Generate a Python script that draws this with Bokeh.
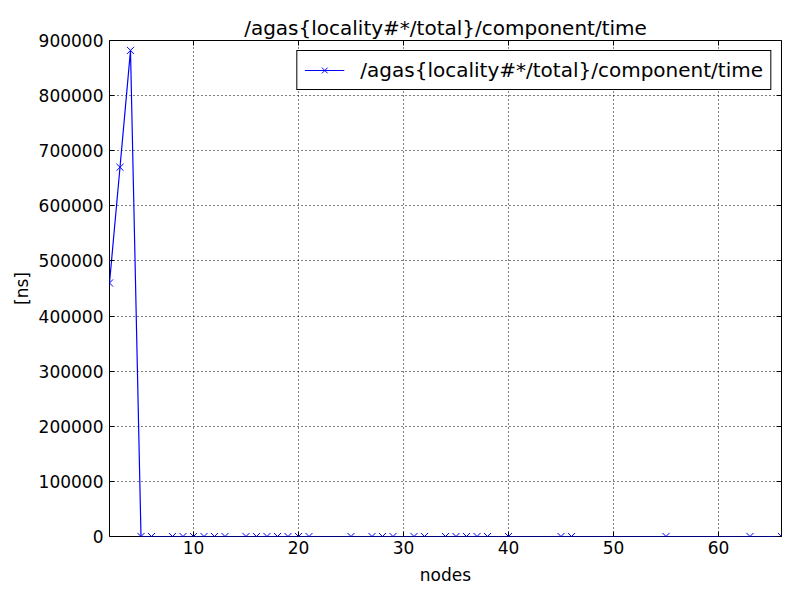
from bokeh.plotting import figure
from bokeh.models import ColumnDataSource, Range1d, FixedTicker, BasicTickFormatter, LinearAxis, Legend, LegendItem
from bokeh.embed import file_html
from bokeh.resources import INLINE

nodes = [2, 3, 4, 5, 6, 8, 9, 10, 11, 12, 13, 15, 16, 17, 18, 19, 20, 21, 25,
         27, 28, 29, 31, 32, 34, 35, 36, 37, 38, 40, 45, 46, 55, 63, 66]
times = [460000, 670000, 882000] + [0] * (len(nodes) - 3)
x_ticks = [10, 20, 30, 40, 50, 60]
y_ticks = [0, 100000, 200000, 300000, 400000, 500000, 600000, 700000, 800000, 900000]
series_name = "/agas{locality#*/total}/component/time"

FONT = "DejaVu Sans"

source = ColumnDataSource(data=dict(x=nodes, y=times))

p = figure(width=792, height=592, output_backend="svg", toolbar_location=None,
           x_range=Range1d(2, 66), y_range=Range1d(0, 900000),
           min_border_left=109, min_border_right=11, min_border_top=40, min_border_bottom=56)

p.title.text = series_name
p.title.align = "center"
p.title.text_font = FONT
p.title.text_font_size = "20px"
p.title.text_font_style = "normal"
p.title.text_color = "black"
p.title.standoff = 2

p.outline_line_color = "black"
p.outline_line_width = 1
p.outline_line_alpha = 1

r_line = p.line('x', 'y', source=source, line_color="#0000ff", line_width=1.2)
r_mark = p.scatter('x', 'y', source=source, marker="x", size=10, line_color="#0000ff", line_width=1)

for ax in (p.xaxis[0], p.yaxis[0]):
    ax.axis_line_color = None
    ax.major_tick_in = 5
    ax.major_tick_out = 0
    ax.major_tick_line_color = "black"
    ax.minor_tick_line_color = None
    ax.major_label_text_font = FONT
    ax.major_label_text_font_size = "17px"
    ax.major_label_text_color = "black"
    ax.axis_label_text_font = FONT
    ax.axis_label_text_font_size = "17px"
    ax.axis_label_text_font_style = "normal"
    ax.axis_label_text_color = "black"

p.xaxis.ticker = FixedTicker(ticks=x_ticks)
p.yaxis.ticker = FixedTicker(ticks=y_ticks)
p.yaxis.formatter = BasicTickFormatter(use_scientific=False)
p.xaxis.axis_label = "nodes"
p.yaxis.axis_label = "[ns]"
p.xaxis.major_label_standoff = 4
p.yaxis.major_label_standoff = 6
p.xaxis.axis_label_standoff = 8
p.yaxis.axis_label_standoff = 4

# ticks on the top and right edges, no labels
top = LinearAxis(ticker=FixedTicker(ticks=x_ticks), axis_line_color=None, major_tick_in=5,
                 major_tick_out=0, minor_tick_line_color=None, major_tick_line_color="black",
                 major_label_overrides={t: "" for t in x_ticks}, major_label_standoff=0)
right = LinearAxis(ticker=FixedTicker(ticks=y_ticks), axis_line_color=None, major_tick_in=5,
                   major_tick_out=0, minor_tick_line_color=None, major_tick_line_color="black",
                   major_label_overrides={t: "" for t in y_ticks}, major_label_standoff=0)
p.add_layout(top, "above")
p.add_layout(right, "right")

p.xgrid.grid_line_color = "black"
p.xgrid.grid_line_dash = "1 3"
p.ygrid.grid_line_color = "black"
p.ygrid.grid_line_dash = "1 3"
p.xgrid.ticker = FixedTicker(ticks=x_ticks)
p.ygrid.ticker = FixedTicker(ticks=y_ticks)

legend = Legend(items=[LegendItem(label=series_name, renderers=[r_line, r_mark])],
                location="top_right")
legend.label_text_font = FONT
legend.label_text_font_size = "20px"
legend.label_text_color = "black"
legend.border_line_color = "black"
legend.border_line_width = 1
legend.border_line_alpha = 1
legend.glyph_width = 40
legend.label_standoff = 16
legend.padding = 7
legend.margin = 10
legend.background_fill_alpha = 1
p.add_layout(legend)

open("out.html", "w").write(file_html(p, INLINE))
